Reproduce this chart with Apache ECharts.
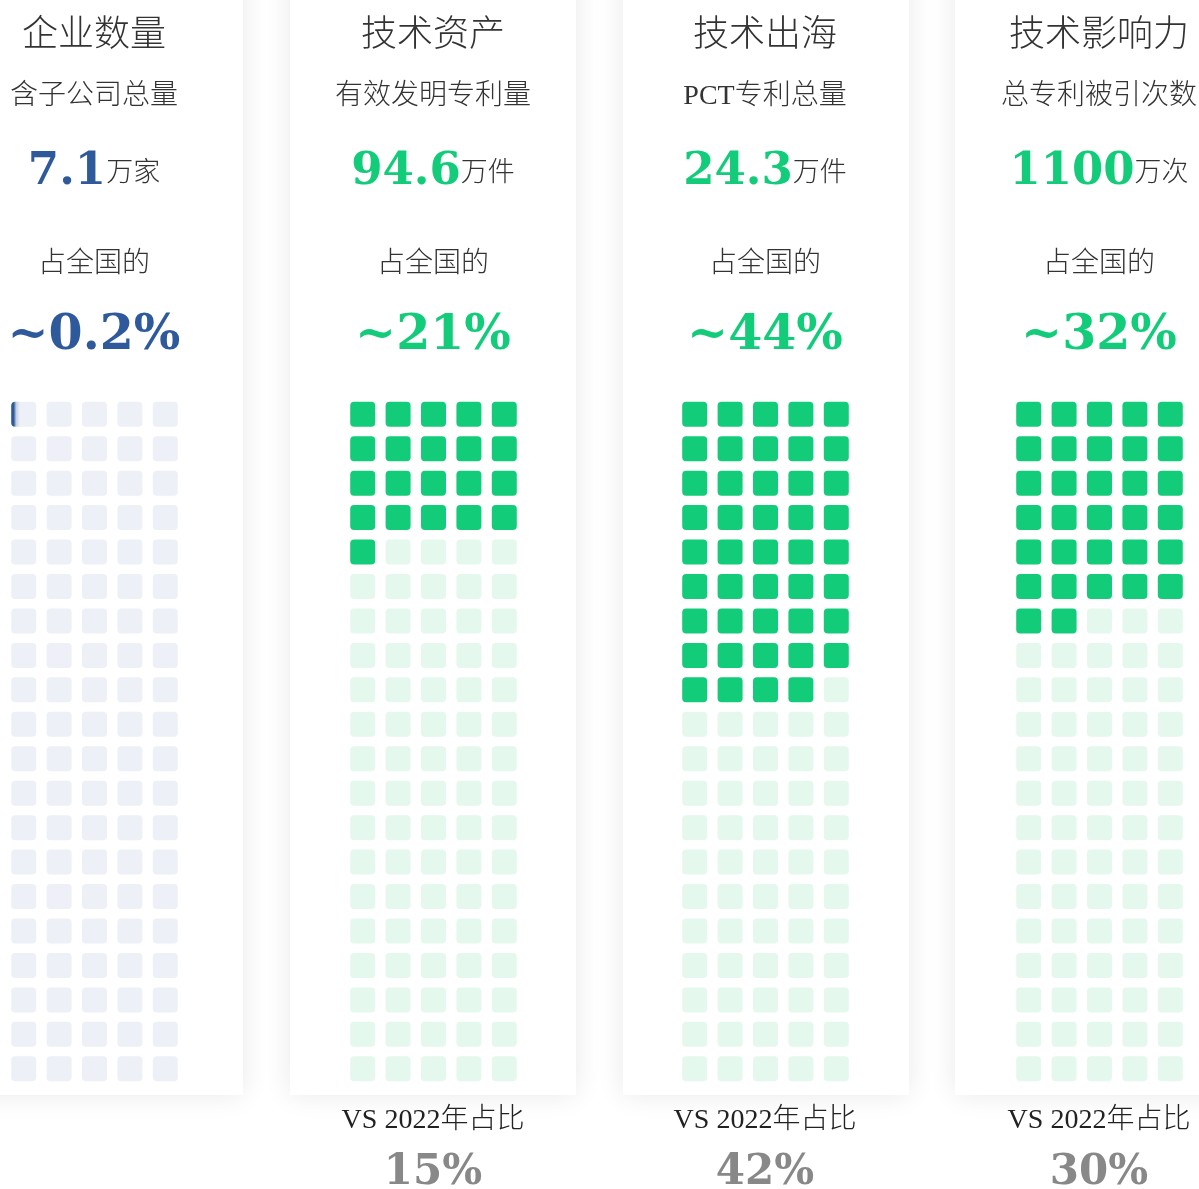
<!DOCTYPE html>
<html lang="zh-CN" style="height: 100%">
<head>
    <meta charset="utf-8">
</head>
<body style="height: 100%; margin: 0; background: #fff">
<div id="main" style="width: 1199px; height: 1189px"></div>
<script src="https://cdn.jsdelivr.net/npm/echarts@6/dist/echarts.min.js"></script>
<script type="text/javascript">
    // 数据
    var titles = ['企业数量', '技术资产', '技术出海', '技术影响力'];
    var subtitles = ['含子公司总量', '有效发明专利量', 'PCT专利总量', '总专利被引次数'];
    var amounts = ['7.1', '94.6', '24.3', '1100'];
    var units = ['万家', '万件', '万件', '万次'];
    var shares = [0.2, 21, 44, 32];           // 占全国的 (%)
    var shareLabels = ['~0.2%', '~21%', '~44%', '~32%'];
    var prevShares = [null, 15, 42, 30];      // VS 2022年占比 (%)
    var colCats = ['1', '2', '3', '4', '5'];
    var rowCats = ['1', '2', '3', '4', '5', '6', '7', '8', '9', '10',
        '11', '12', '13', '14', '15', '16', '17', '18', '19', '20'];

    var centers = [94, 433, 765, 1099];
    var gridLefts = [6, 345, 677, 1011];
    var cardLefts = [-43, 290, 623, 955];
    var fullColors = ['#2e5a9c', '#13cc7a', '#13cc7a', '#13cc7a'];
    var emptyColors = ['#edf0f6', '#e5f8ee', '#e5f8ee', '#e5f8ee'];

    var serif = "'DejaVu Serif', serif";
    var mixed = "'Liberation Serif', 'Noto Sans CJK SC', sans-serif";
    var cjk = "'Noto Sans CJK SC', sans-serif";

    var dom = document.getElementById('main');
    var myChart = echarts.init(dom, null, {renderer: 'canvas'});

    var title = [];
    var grid = [];
    var xAxis = [];
    var yAxis = [];
    var series = [];
    var graphic = [];

    function addText(text, x, y, style) {
        title.push({
            text: text, left: x, top: y, padding: 0,
            textAlign: 'center', textVerticalAlign: 'middle',
            textStyle: style
        });
    }

    for (var i = 0; i < 4; i++) {
        graphic.push({
            type: 'rect', z: -10,
            shape: {x: cardLefts[i], y: -40, width: 286, height: 1135},
            style: {fill: '#fff', shadowBlur: 26, shadowColor: 'rgba(0,0,0,0.09)'}
        });

        addText(titles[i], centers[i], 32, {fontFamily: cjk, fontWeight: 300, fontSize: 36, color: '#333'});
        addText(subtitles[i], centers[i], 97, {fontFamily: mixed, fontWeight: 300, fontSize: 28, color: '#333'});
        addText('{n|' + amounts[i] + '}{u|' + units[i] + '}', centers[i], 172, {
            rich: {
                n: {fontFamily: serif, fontWeight: 'bold', fontSize: 45, color: fullColors[i], lineHeight: 52},
                u: {fontFamily: cjk, fontWeight: 300, fontSize: 27, color: '#333', lineHeight: 52, padding: [0, 0, 3, 0]}
            }
        });
        addText('占全国的', centers[i], 261, {fontFamily: cjk, fontWeight: 300, fontSize: 28, color: '#333'});
        addText(shareLabels[i], centers[i], 336, {fontFamily: serif, fontWeight: 'bold', fontSize: 49, color: fullColors[i]});
        if (prevShares[i] !== null) {
            addText('VS 2022年占比', centers[i], 1121, {fontFamily: mixed, fontWeight: 300, fontSize: 28, color: '#222'});
            addText(prevShares[i] + '%', centers[i], 1173, {fontFamily: serif, fontWeight: 'bold', fontSize: 42, color: '#888'});
        }

        grid.push({left: gridLefts[i], top: 397, width: 177, height: 689});
        xAxis.push({gridIndex: i, type: 'category', data: colCats, show: false});
        yAxis.push({gridIndex: i, type: 'category', data: rowCats, inverse: true, show: false});

        var cells = [];
        for (var r = 0; r < rowCats.length; r++) {
            for (var c = 0; c < colCats.length; c++) {
                var idx = r * colCats.length + c;
                var f = Math.max(0, Math.min(1, shares[i] - idx));
                cells.push([c, r, f]);
            }
        }

        (function (full, empty) {
            series.push({
                type: 'custom',
                xAxisIndex: i,
                yAxisIndex: i,
                data: cells,
                silent: true,
                renderItem: function (params, api) {
                    var p = api.coord([api.value(0), api.value(1)]);
                    var f = api.value(2);
                    var s = 25;
                    var fill;
                    if (f >= 1) {
                        fill = full;
                    } else if (f <= 0) {
                        fill = empty;
                    } else {
                        fill = new echarts.graphic.LinearGradient(0, 0, 1, 0, [
                            {offset: 0, color: full},
                            {offset: f * 0.5, color: full},
                            {offset: f, color: '#c5d0e4'},
                            {offset: Math.min(1, f + 0.15), color: empty},
                            {offset: 1, color: empty}
                        ]);
                    }
                    return {
                        type: 'rect',
                        shape: {x: p[0] - s / 2, y: p[1] - s / 2, width: s, height: s, r: 4},
                        style: {fill: fill}
                    };
                }
            });
        })(fullColors[i], emptyColors[i]);
    }

    var option = {
        animation: false,
        backgroundColor: '#fff',
        graphic: graphic,
        title: title,
        grid: grid,
        xAxis: xAxis,
        yAxis: yAxis,
        series: series
    };

    if (option && typeof option === 'object') {
        myChart.setOption(option);
    }
    window.addEventListener('resize', myChart.resize);
</script>
</body>
</html>
